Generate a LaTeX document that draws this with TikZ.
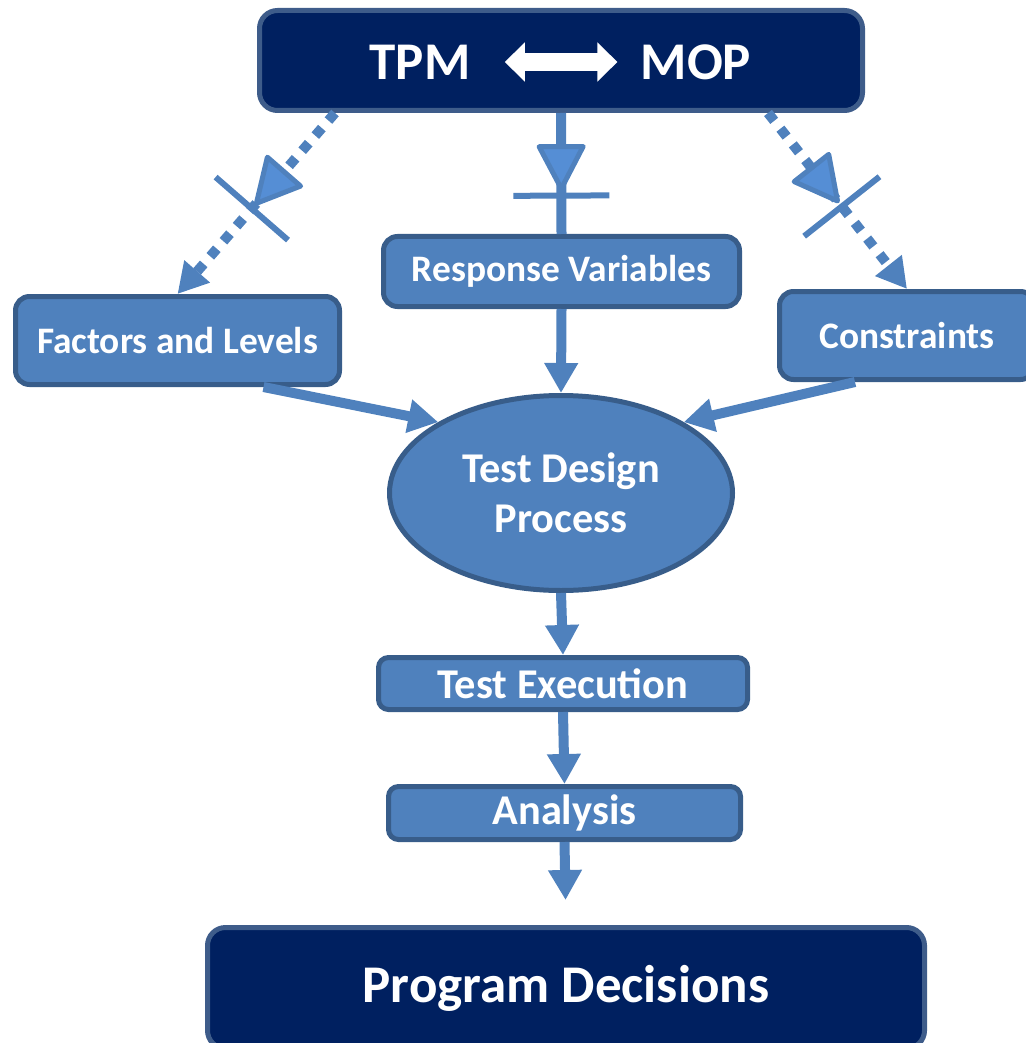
\documentclass[tikz,border=0pt]{standalone}
\usepackage{fontspec}
\setmainfont{Carlito}
\usepackage{tikz}
\usetikzlibrary{arrows.meta,shapes.geometric,decorations.markings}
\definecolor{navy}{RGB}{0,32,96}
\definecolor{navyedge}{RGB}{62,92,138}
\definecolor{boxblue}{RGB}{79,129,189}
\definecolor{boxedge}{RGB}{56,93,138}
\definecolor{gateblue}{RGB}{85,142,213}
\tikzstyle{navybox}=[rectangle,
rounded corners=9pt,
line width=2.5pt,
draw=navyedge,
fill=navy,
text=white,
inner sep=0pt]
\tikzstyle{stage}=[rectangle,
rounded corners=7pt,
line width=2.5pt,
draw=boxedge,
fill=boxblue,
text=white,
inner sep=0pt]
\tikzstyle{process}=[ellipse,
line width=2.5pt,
draw=boxedge,
fill=boxblue,
text=white,
inner sep=0pt,
align=center]
\tikzstyle{flow}=[line width=5pt,
draw=boxblue,
-{Triangle[width=16pt,length=15pt]}]
\tikzstyle{dotflow}=[flow,
dash pattern=on 5pt off 5pt]
\tikzstyle{swap}=[line width=9pt,
draw=white,
{Triangle[width=19pt,length=10pt]}-{Triangle[width=19pt,length=10pt]}]
% triangle and bar drawn part way along a connector
\tikzset{gate/.style={postaction={decorate},
decoration={markings,mark=at position #1 with {
\draw[solid,-,line width=2.5pt,line join=round,draw=boxblue,fill=gateblue]
(0pt,0pt) -- (-21pt,11pt) -- (-21pt,-11pt) -- cycle;
\draw[solid,-,line width=3pt,draw=boxblue] (3.5pt,-24pt) -- (3.5pt,24pt);}}}}

\begin{document}
\begin{tikzpicture}[x=0.5pt,y=-0.5pt,font=\bfseries]
		\useasboundingbox (0,0) rectangle (1025,1043);
		
		% Top: measures
		\node (top) [navybox,minimum width=301.5pt,minimum height=50pt] at (561,60.5) {};
		\node (tpm) [inner sep=0pt,text=white,font=\fontsize{26.5}{30}\selectfont\bfseries] at (420,62) {TPM};
		\node (mop) [inner sep=0pt,text=white,font=\fontsize{26.5}{30}\selectfont\bfseries] at (696,62) {MOP};
		
		% Middle line: inputs to the test design
		\node (fl) [stage,minimum width=162pt,minimum height=44pt,font=\fontsize{18.7}{21}\selectfont\bfseries] at (177.5,340.5) {Factors and Levels};
		\node (rv) [stage,minimum width=178pt,minimum height=35pt,font=\fontsize{18.7}{21}\selectfont\bfseries] at (561.5,271.5) {Response Variables};
		\node (ct) [stage,minimum width=127.5pt,minimum height=44pt,font=\fontsize{18.7}{21}\selectfont\bfseries] at (907,335.5) {Constraints};
		
		% Design, execution, analysis
		\node (tdp) [process,minimum width=171.5pt,minimum height=97.5pt,font=\fontsize{21.2}{25}\selectfont\bfseries] at (561,493) {Test Design\\Process};
		\node (te) [stage,rounded corners=5pt,minimum width=184.5pt,minimum height=26pt,font=\fontsize{21.2}{25}\selectfont\bfseries] at (563,683.5) {Test Execution};
		\node (an) [stage,rounded corners=5pt,minimum width=176pt,minimum height=26.5pt,font=\fontsize{21.2}{25}\selectfont\bfseries] at (564.5,813) {Analysis};
		
		% Bottom: decisions
		\node (pd) [navybox,minimum width=358.5pt,minimum height=60.5pt,font=\fontsize{26.5}{30}\selectfont\bfseries] at (566,988) {Program Decisions};
		
		% Connectors
		\draw[swap,shorten <=17pt,shorten >=11.5pt] (tpm) -- (mop);
		\draw[dotflow,gate=0.5] ([xshift=-113pt]top.south) -- (fl.north);
		\draw[line width=5pt,draw=boxblue,gate=0.625] (top.south) -- (rv.north);
		\draw[dotflow,gate=0.5] ([xshift=103.5pt]top.south) -- (ct.north);
		
		\draw[flow] ([xshift=43pt]fl.south) -- (tdp.150);
		\draw[flow] (rv.south) -- (tdp.north);
		\draw[flow] ([xshift=-26pt]ct.south) -- (tdp.30);
		\draw[flow] (tdp.south) -- (te.north);
		\draw[flow] (te.south) -- (an.north);
		\draw[flow,shorten >=12.5pt] (an.south) -- (pd.north);
\end{tikzpicture}
\end{document}
